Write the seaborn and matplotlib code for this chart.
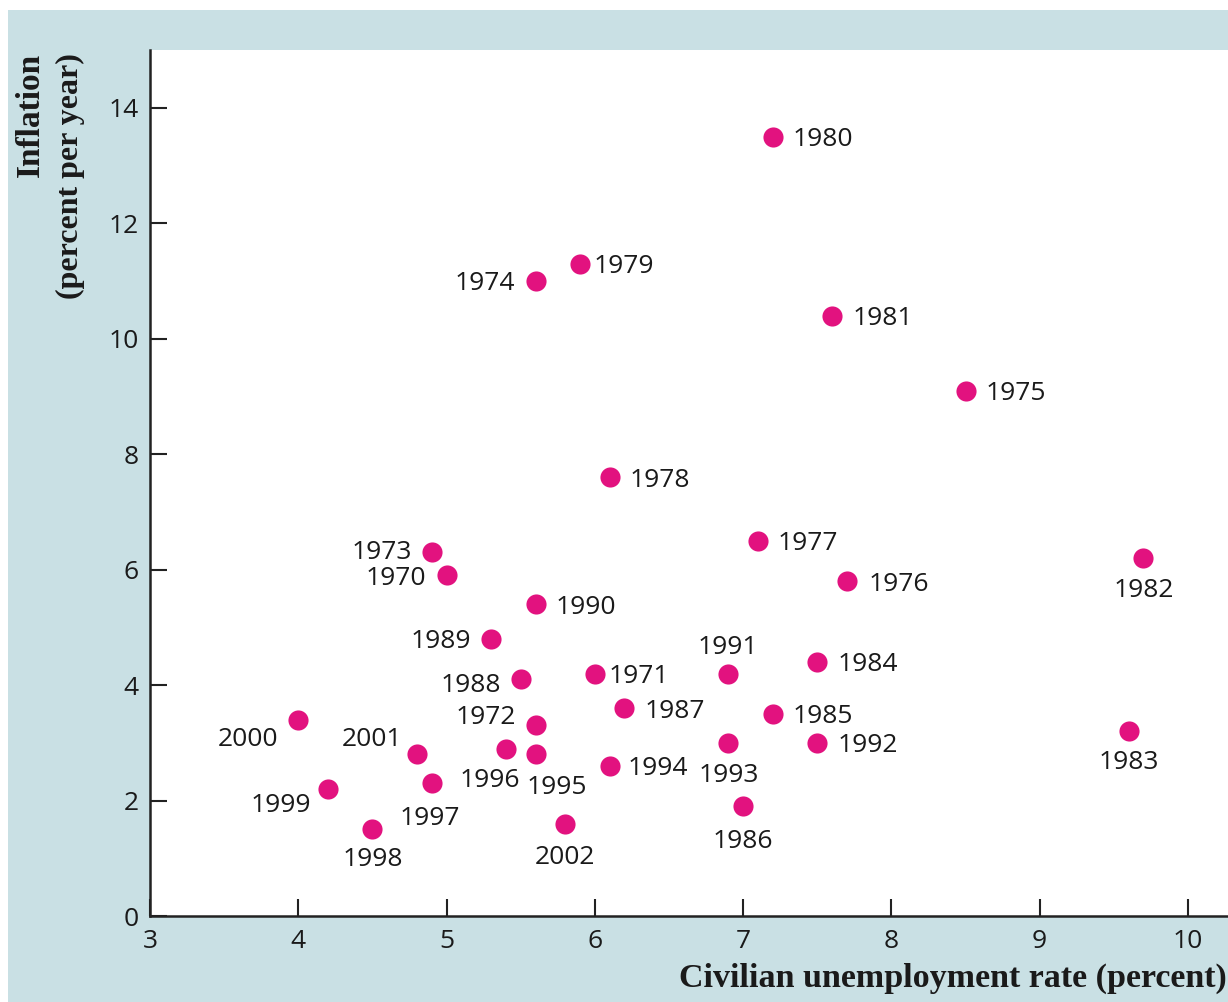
import numpy as np
import pandas as pd
import matplotlib
matplotlib.use("Agg")
import matplotlib.pyplot as plt
import matplotlib.patches as mpatches
import seaborn as sns

# donnees (chomage, inflation) par annee
years = [1970, 1971, 1972, 1973, 1974, 1975, 1976, 1977, 1978, 1979,
         1980, 1981, 1982, 1983, 1984, 1985, 1986, 1987, 1988, 1989,
         1990, 1991, 1992, 1993, 1994, 1995, 1996, 1997, 1998, 1999,
         2000, 2001, 2002]
unemployment = [5.0, 6.0, 5.6, 4.9, 5.6, 8.5, 7.7, 7.1, 6.1, 5.9,
                7.2, 7.6, 9.7, 9.6, 7.5, 7.2, 7.0, 6.2, 5.5, 5.3,
                5.6, 6.9, 7.5, 6.9, 6.1, 5.6, 5.4, 4.9, 4.5, 4.2,
                4.0, 4.8, 5.8]
inflation = [5.9, 4.2, 3.3, 6.3, 11.0, 9.1, 5.8, 6.5, 7.6, 11.3,
             13.5, 10.4, 6.2, 3.2, 4.4, 3.5, 1.9, 3.6, 4.1, 4.8,
             5.4, 4.2, 3.0, 3.0, 2.6, 2.8, 2.9, 2.3, 1.5, 2.2,
             3.4, 2.8, 1.6]

x_ticks = [3, 4, 5, 6, 7, 8, 9, 10]
y_ticks = [0, 2, 4, 6, 8, 10, 12, 14]

# placement des etiquettes : decalage en pixels (dx, dy vers le bas), alignement
label_pos = {
    1980: (20, 0, 'left'), 1979: (14, 0, 'left'), 1974: (-20, 0, 'right'),
    1981: (20, 0, 'left'), 1975: (20, 0, 'left'), 1978: (20, 0, 'left'),
    1977: (20, 0, 'left'), 1973: (-20, -3, 'right'), 1970: (-20, 0, 'right'),
    1982: (0, 29, 'center'), 1976: (22, 0, 'left'), 1990: (20, 0, 'left'),
    1989: (-20, 0, 'right'), 1988: (-20, 3, 'right'), 1971: (14, 0, 'left'),
    1991: (0, -29, 'center'), 1984: (20, 0, 'left'), 1987: (20, 0, 'left'),
    1972: (-19, -11, 'right'), 1985: (20, 0, 'left'), 1992: (20, 0, 'left'),
    1983: (0, 28, 'center'), 2000: (-20, 17, 'right'), 2001: (-15, -18, 'right'),
    1996: (-16, 29, 'center'), 1995: (21, 30, 'center'), 1993: (0, 30, 'center'),
    1997: (-2, 32, 'center'), 1994: (18, 0, 'left'), 1999: (-17, 14, 'right'),
    1998: (0, 27, 'center'), 2002: (0, 31, 'center'), 1986: (0, 32, 'center'),
}

df = pd.DataFrame({'year': years, 'unemp': unemployment, 'infl': inflation})

bg_blue = '#c9e0e4'
dot_color = '#e2127f'
num_font = ['Open Sans', 'DejaVu Sans']
lab_font = ['Liberation Serif', 'DejaVu Serif']

sns.set_style("ticks")
plt.rcParams['font.family'] = num_font

fig = plt.figure(figsize=(12.28, 10.02), dpi=100)
fig.patch.set_facecolor('white')
# bandeau bleu derriere le graphique
fig.patches.append(mpatches.Rectangle((8 / 1228, 0), 1, 992 / 1002,
                                      transform=fig.transFigure,
                                      facecolor=bg_blue, edgecolor='none', zorder=-5))

ax = fig.add_axes([150 / 1228, 86 / 1002, 1 - 150 / 1228, (916 - 50) / 1002])
ax.set_zorder(1)
ax.set_facecolor('white')

sns.scatterplot(data=df, x='unemp', y='infl', ax=ax, color=dot_color,
                s=210, linewidth=0, zorder=3, clip_on=False)

for yr, xv, yv in zip(years, unemployment, inflation):
    dx, dy, ha = label_pos[yr]
    dy += 3  # la police a de l'espace sous la ligne de base
    ax.annotate(str(yr), (xv, yv), xytext=(dx * 0.72, -dy * 0.72),
                textcoords='offset points', ha=ha, va='center',
                fontsize=19, color='#1a1a1a')

ax.set_xlim(3, 10.27)
ax.set_ylim(0, 15)
ax.set_xticks(x_ticks)
ax.set_yticks(y_ticks)
ax.tick_params(direction='in', length=12, width=1.5, color='#222222',
               labelsize=19, labelcolor='#1a1a1a')
ax.tick_params(axis='x', pad=9)
ax.tick_params(axis='y', pad=8)
for side in ['top', 'right']:
    ax.spines[side].set_visible(False)
for side in ['left', 'bottom']:
    ax.spines[side].set_linewidth(1.8)
    ax.spines[side].set_color('#222222')
ax.set_xlabel('')
ax.set_ylabel('')

# titres des axes en serif gras
fig.text(30 / 1228, 1 - 53 / 1002, 'Inflation', rotation=90, ha='center', va='top',
         fontsize=24, fontweight='bold', family=lab_font, color='#1a1a1a')
fig.text(70 / 1228, 1 - 53 / 1002, '(percent per year)', rotation=90, ha='center', va='top',
         fontsize=23, fontweight='bold', family=lab_font, color='#1a1a1a')
fig.text(0.999, 1 - 978 / 1002, 'Civilian unemployment rate (percent)', ha='right', va='center',
         fontsize=24.5, fontweight='bold', family=lab_font, color='#1a1a1a')

plt.savefig("out.png", dpi=100, facecolor=fig.get_facecolor())
